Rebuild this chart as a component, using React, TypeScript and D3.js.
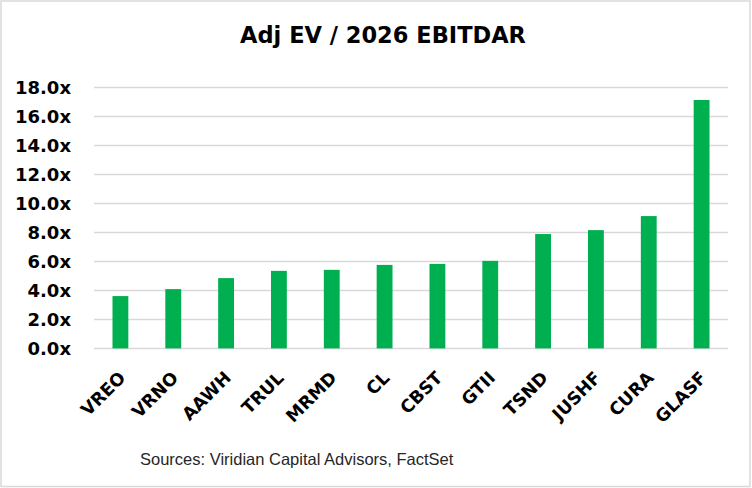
import * as d3 from "d3";
import React from "react";

const tickers = ["VREO", "VRNO", "AAWH", "TRUL", "MRMD", "CL", "CBST", "GTII", "TSND", "JUSHF", "CURA", "GLASF"];
const multiples = [3.61, 4.09, 4.85, 5.35, 5.42, 5.76, 5.83, 6.04, 7.89, 8.16, 9.13, 17.14];
const yTicks = [0, 2, 4, 6, 8, 10, 12, 14, 16, 18];

const title = "Adj EV / 2026 EBITDAR";
const source = "Sources: Viridian Capital Advisors, FactSet";

const W = 752;
const H = 488;
const green = "#00b050";
const grid = "#d9d9d9";

export default function App() {
  const x = d3.scaleBand<string>().domain(tickers).range([94, 728]).paddingInner(0.7).paddingOuter(0.35);
  const y = d3.scaleLinear().domain([0, 18]).range([348.4, 87.5]);

  return (
    <div style={{ position: "fixed", left: 0, top: 0 }}>
      <svg width={W} height={H} style={{ display: "block", background: "#fff" }}>
        <rect x={1} y={1} width={W - 3} height={H - 2.5} fill="#fff" stroke={grid} strokeWidth={1.5} />
        <text
          x={383}
          y={43}
          textAnchor="middle"
          fontFamily="DejaVu Sans"
          fontWeight="bold"
          fontSize={22.5}
          fill="#000"
        >
          {title}
        </text>

        <g>
          {yTicks.map((t) => (
            <g key={t}>
              <line x1={94} x2={728} y1={y(t)} y2={y(t)} stroke={grid} strokeWidth={1.5} />
              <text
                x={71}
                y={y(t)}
                dy="0.36em"
                textAnchor="end"
                fontFamily="DejaVu Sans"
                fontWeight="bold"
                fontSize={18}
                fill="#000"
              >
                {d3.format(".1f")(t) + "x"}
              </text>
            </g>
          ))}
        </g>

        <g>
          {tickers.map((d, i) => (
            <rect
              key={d}
              x={x(d)}
              y={y(multiples[i])}
              width={x.bandwidth()}
              height={y(0) - y(multiples[i])}
              fill={green}
            />
          ))}
        </g>

        <g>
          {tickers.map((d) => {
            const cx = (x(d) ?? 0) + x.bandwidth() / 2 + 6;
            const cy = 379;
            return (
              <text
                key={d}
                x={cx}
                y={cy}
                transform={`rotate(-45 ${cx} ${cy})`}
                textAnchor="end"
                fontFamily="DejaVu Sans"
                fontWeight="bold"
                fontSize={17.5}
                fill="#000"
              >
                {d}
              </text>
            );
          })}
        </g>

        <text x={140} y={465} fontFamily="Liberation Sans" fontSize={16.5} fill="#262626">
          {source}
        </text>
      </svg>
    </div>
  );
}
